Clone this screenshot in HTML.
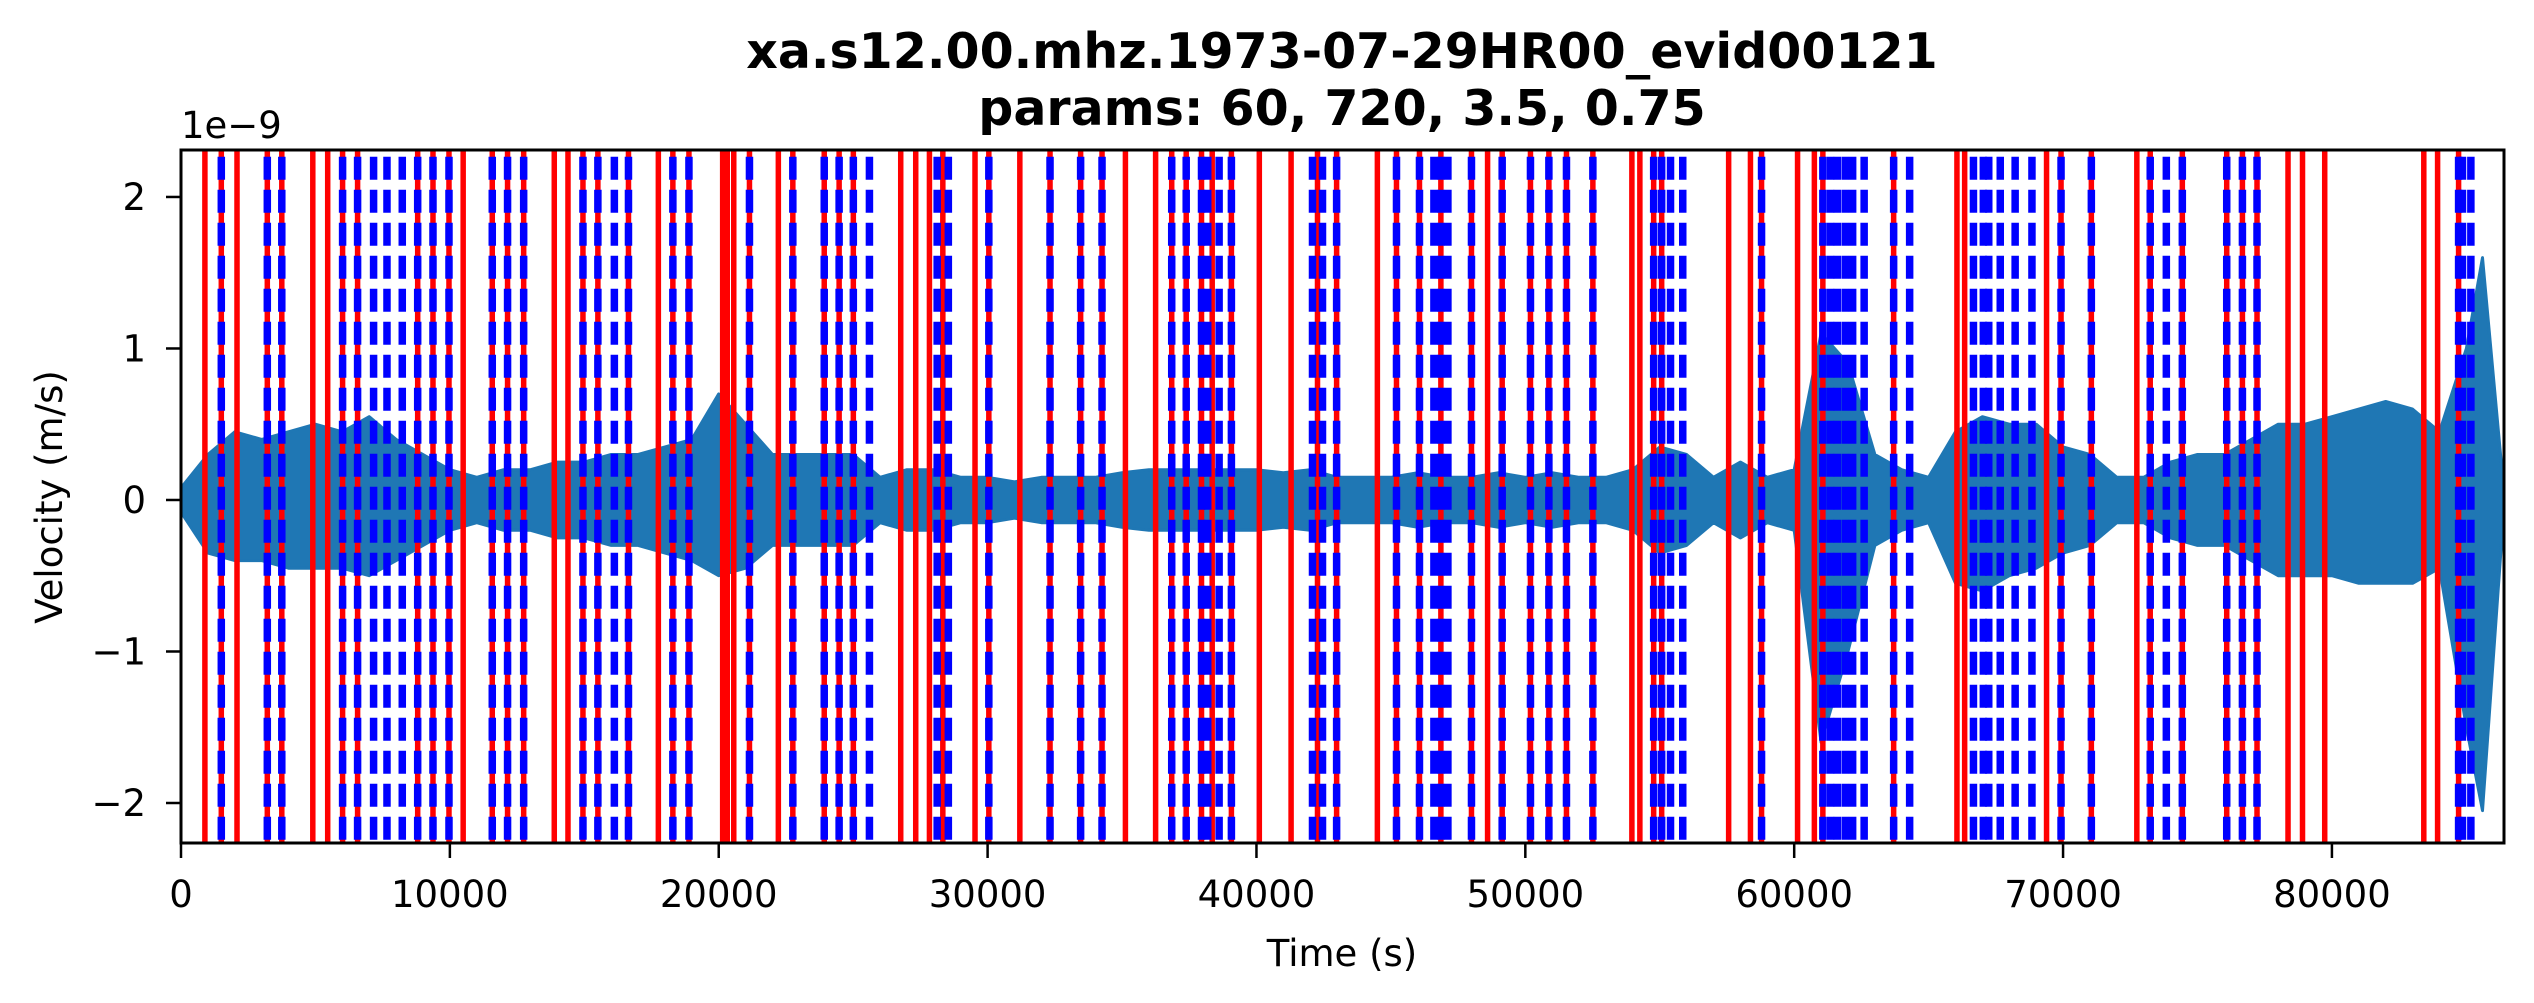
<!DOCTYPE html>
<html><head><meta charset="utf-8"><style>
html,body{margin:0;padding:0;background:#fff;}
svg{display:block;font-family:"DejaVu Sans","Liberation Sans",sans-serif;}
</style></head><body>
<svg id="chart" width="2534" height="1003" viewBox="0 0 2534 1003" xmlns="http://www.w3.org/2000/svg">
<rect width="2534" height="1003" fill="#fff"/>
<text x="1342" y="68" text-anchor="middle" font-size="49" font-weight="bold">xa.s12.00.mhz.1973-07-29HR00_evid00121</text>
<text x="1342" y="125" text-anchor="middle" font-size="49" font-weight="bold">params: 60, 720, 3.5, 0.75</text>
<defs><clipPath id="plotclip"><rect x="181" y="150" width="2323" height="693"/></clipPath></defs>
<g id="plot" clip-path="url(#plotclip)"></g>
<g id="axes"></g>
<text x="181" y="138" font-size="37">1e−9</text>
<text x="1342" y="966" text-anchor="middle" font-size="37">Time (s)</text>
<text x="0" y="0" transform="translate(62,497) rotate(-90)" text-anchor="middle" font-size="37">Velocity (m/s)</text>
</svg>
<script>
const envTimes = [0,1000,2000,3000,4000,5000,6000,7000,8000,9000,10000,11000,12000,13000,14000,15000,16000,17000,18000,19000,20000,21000,22000,23000,24000,25000,26000,27000,28000,29000,30000,31000,32000,33000,34000,35000,36000,37000,38000,39000,40000,41000,42000,43000,44000,45000,46000,47000,48000,49000,50000,51000,52000,53000,54000,55000,56000,57000,58000,59000,60000,61000,62000,63000,64000,65000,66000,67000,68000,69000,70000,71000,72000,73000,74000,75000,76000,77000,78000,79000,80000,81000,82000,83000,84000,85000,85600,86400];
const envUpper = [0.08,0.3,0.45,0.4,0.45,0.5,0.45,0.55,0.4,0.3,0.2,0.15,0.2,0.2,0.25,0.25,0.3,0.3,0.35,0.4,0.7,0.5,0.3,0.3,0.3,0.3,0.15,0.2,0.2,0.15,0.15,0.12,0.15,0.15,0.15,0.18,0.2,0.2,0.2,0.2,0.2,0.18,0.2,0.15,0.15,0.15,0.18,0.15,0.15,0.18,0.15,0.18,0.15,0.15,0.2,0.35,0.3,0.15,0.25,0.15,0.2,1.1,0.9,0.3,0.2,0.15,0.45,0.55,0.5,0.5,0.35,0.3,0.15,0.15,0.25,0.3,0.3,0.4,0.5,0.5,0.55,0.6,0.65,0.6,0.45,1.0,1.6,0.05];
const envLower = [0.08,0.35,0.4,0.4,0.45,0.45,0.45,0.5,0.4,0.3,0.2,0.15,0.2,0.2,0.25,0.25,0.3,0.3,0.35,0.4,0.5,0.45,0.3,0.3,0.3,0.3,0.15,0.2,0.2,0.15,0.15,0.12,0.15,0.15,0.15,0.18,0.2,0.2,0.2,0.2,0.2,0.18,0.2,0.15,0.15,0.15,0.18,0.15,0.15,0.18,0.15,0.18,0.15,0.15,0.2,0.35,0.3,0.15,0.25,0.15,0.2,1.6,1.0,0.3,0.2,0.15,0.55,0.6,0.5,0.45,0.35,0.3,0.15,0.15,0.25,0.3,0.3,0.4,0.5,0.5,0.5,0.55,0.55,0.55,0.45,1.5,2.05,0.05];
const triggerOn = [889,1499,2083,3210,3749,4902,5456,6010,6568,8803,9372,9967,10495,11577,12146,12745,13883,14393,14950,15505,16643,17754,18294,18892,20146,20317,20559,21143,22217,22756,23924,24478,25006,26769,27327,27837,28335,29532,30046,31199,32322,33460,34256,35126,36249,36848,37387,37956,38354,39068,40106,41288,42270,42981,44497,45208,46063,46859,47997,48596,49139,50191,50876,51530,52512,53963,54260,54773,55071,57562,58373,58786,60125,60750,61066,63699,66053,66340,69386,69925,71052,72744,73242,74436,76087,76671,77214,78367,78906,79732,83417,83930,84711];
const triggerOff = [1499,3210,3749,6010,6568,7163,7661,8230,8803,9372,9967,11577,12146,12745,14950,15505,16118,16643,18294,18892,21143,22756,23924,24478,25006,25605,28124,28540,30046,32322,33460,34256,36848,37387,37956,38187,38611,39068,42084,42456,42981,45208,46063,46600,46859,47120,47997,49139,50191,50876,51530,52512,54773,55071,55400,55855,58786,61066,61350,61605,61900,62174,62602,63699,64294,66667,67035,67236,67664,68218,68843,69925,71052,73242,73841,74436,76087,76671,77214,84711,84856,85168];
const xTicks = [0,10000,20000,30000,40000,50000,60000,70000,80000];
const xTickLabels = ["0","10000","20000","30000","40000","50000","60000","70000","80000"];
const yTicks = [-2,-1,0,1,2];
const yTickLabels = ["−2","−1","0","1","2"];

const L=181,R=2504,T=150,B=843,XMAX=86400,YMIN=-2.264,YMAX=2.31;
const xs=t=>L+(t/XMAX)*(R-L);
const ys=v=>B-(v-YMIN)/(YMAX-YMIN)*(B-T);
const NS="http://www.w3.org/2000/svg";
const plot=document.getElementById('plot');
const axes=document.getElementById('axes');
function mk(tag,attrs,parent){const e=document.createElementNS(NS,tag);for(const k in attrs)e.setAttribute(k,attrs[k]);parent.appendChild(e);return e;}

let d='';
envTimes.forEach((t,i)=>{d+=(i?'L':'M')+xs(t).toFixed(1)+','+ys(envUpper[i]).toFixed(1);});
for(let i=envTimes.length-1;i>=0;i--){d+='L'+xs(envTimes[i]).toFixed(1)+','+ys(-envLower[i]).toFixed(1);}
d+='Z';
const wave=mk('path',{d:d,fill:'#1f77b4',stroke:'#1f77b4','stroke-width':3,'stroke-linejoin':'round'},plot);



triggerOn.forEach(t=>{
  const l=mk('line',{x1:xs(t),x2:xs(t),y1:T,y2:B,stroke:'#ff0000','stroke-width':5.5},plot);
  
  
});
triggerOff.forEach(t=>{
  const l=mk('line',{x1:xs(t),x2:xs(t),y1:T,y2:B,stroke:'#0000ff','stroke-width':7.5,'stroke-dasharray':'23 10','stroke-dashoffset':26.3},plot);
  
  
});

const frame=mk('rect',{x:L,y:T,width:R-L,height:B-T,fill:'none',stroke:'#000','stroke-width':3},axes);



xTicks.forEach((t,i)=>{
  const tk=mk('line',{x1:xs(t),x2:xs(t),y1:B,y2:B+15,stroke:'#000','stroke-width':2.5},axes);
  
  
  const tx=mk('text',{x:xs(t),y:907,'text-anchor':'middle','font-size':37},axes);
  tx.textContent=xTickLabels[i];
  
  
});
yTicks.forEach((v,i)=>{
  const tk=mk('line',{x1:L-15,x2:L,y1:ys(v),y2:ys(v),stroke:'#000','stroke-width':2.5},axes);
  
  
  const tx=mk('text',{x:146,y:ys(v)+13,'text-anchor':'end','font-size':37},axes);
  tx.textContent=yTickLabels[i];
  
  
});
</script>
</body></html>
